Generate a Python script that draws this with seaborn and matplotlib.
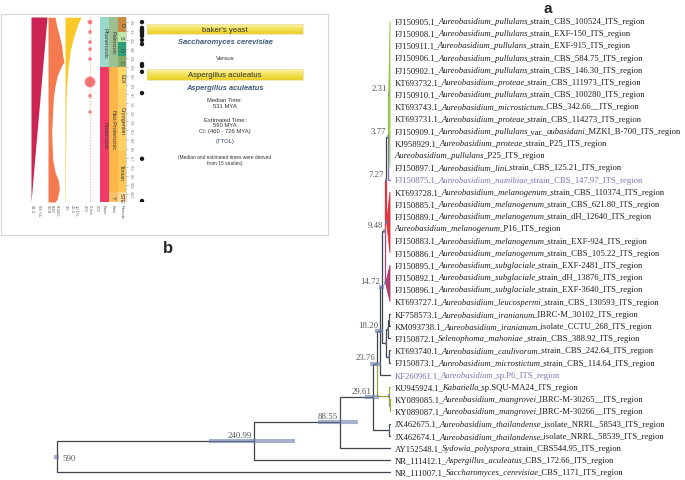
import numpy as np
import matplotlib
matplotlib.use('Agg')
import matplotlib.pyplot as plt
import seaborn as sns
from matplotlib.patches import Polygon, Rectangle
from matplotlib.colors import LinearSegmentedColormap

sns.set_theme(style='white')
plt.rcParams['font.family'] = ['Liberation Serif', 'DejaVu Serif']

# ------------------------------------------------------------------ tree data
leaf_labels = [
    "FJ150905.1_*Aureobasidium_pullulans*_strain_CBS_100524_ITS_region",
    "FJ150908.1_*Aureobasidium_pullulans*_strain_EXF-150_ITS_region",
    "FJ150911.1_*Aureobasidium_pullulans*_strain_EXF-915_ITS_region",
    "FJ150906.1_*Aureobasidium_pullulans*_strain_CBS_584.75_ITS_region",
    "FJ150902.1_*Aureobasidium_pullulans*_strain_CBS_146.30_ITS_region",
    "KT693732.1_*Aureobasidium_proteae*_strain_CBS_111973_ITS_region",
    "FJ150910.1_*Aureobasidium_pullulans*_strain_CBS_100280_ITS_region",
    "KT693743.1_*Aureobasidium_microstictum*_CBS_342.66__ITS_region",
    "KT693731.1_*Aureobasidium_proteae*_strain_CBS_114273_ITS_region",
    "FJ150909.1_*Aureobasidium_pullulans*_var._*aubasidani*_MZKI_B-700_ITS_region",
    "KJ958929.1_*Aureobasidium_proteae*_strain_P25_ITS_region",
    "*Aureobasidium_pullulans*_P25_ITS_region",
    "FJ150897.1_*Aureobasidium_lini*_strain_CBS_125.21_ITS_region",
    "FJ150875.1_*Aureobasidium_namibiae*_strain_CBS_147.97_ITS_region",
    "KT693728.1_*Aureobasidium_melanogenum*_strain_CBS_110374_ITS_region",
    "FJ150885.1_*Aureobasidium_melanogenum*_strain_CBS_621.80_ITS_region",
    "FJ150889.1_*Aureobasidium_melanogenum*_strain_dH_12640_ITS_region",
    "*Aureobasidium_melanogenum*_P16_ITS_region",
    "FJ150883.1_*Aureobasidium_melanogenum*_strain_EXF-924_ITS_region",
    "FJ150886.1_*Aureobasidium_melanogenum*_strain_CBS_105.22_ITS_region",
    "FJ150895.1_*Aureobasidium_subglaciale*_strain_EXF-2481_ITS_region",
    "FJ150892.1_*Aureobasidium_subglaciale*_strain_dH_13876_ITS_region",
    "FJ150896.1_*Aureobasidium_subglaciale*_strain_EXF-3640_ITS_region",
    "KT693727.1_*Aureobasidium_leucospermi*_strain_CBS_130593_ITS_region",
    "KF758573.1_*Aureobasidium_iranianum*_IBRC-M_30102_ITS_region",
    "KM093738.1_*Aureobasidium_iranianum*_isolate_CCTU_268_ITS_region",
    "FJ150872.1_*Selenophoma_mahoniae*_strain_CBS_388.92_ITS_region",
    "KT693740.1_*Aureobasidium_caulivorum*_strain_CBS_242.64_ITS_region",
    "FJ150873.1_*Aureobasidium_microstictum*_strain_CBS_114.64_ITS_region",
    "KF260961.1_*Aureobasidium*_sp.P6_ITS_region",
    "KU945924.1_*Kabatiella*_sp.SQU-MA24_ITS_region",
    "KY089085.1_*Aureobasidium_mangrovei*_IBRC-M-30265__ITS_region",
    "KY089087.1_*Aureobasidium_mangrovei*_IBRC-M-30266__ITS_region",
    "JX462675.1_*Aureobasidium_thailandense*_isolate_NRRL_58543_ITS_region",
    "JX462674.1_*Aureobasidium_thailandense*_isolate_NRRL_58539_ITS_region",
    "AY152548.1_*Sydowia_polyspora*_strain_CBS544.95_ITS_region",
    "NR_111412.1_*Aspergillus_aculeatus*_CBS_172.66_ITS_region",
    "NR_111007.1_*Saccharomyces_cerevisiae*_CBS_1171_ITS_region",
]
purple_leaves = [13, 29]

node_names = ['root', 'n240', 'n88', 'n29', 'jx', 'n23', 'mang', 'mang2', 'n18',
              'n14', 'dd', 'bb', 'aa', 'cc', 'n9', 'sub', 'n7', 'mel', 'n3', 'green']
node_ages = [590, 240.99, 88.55, 29.61, 1.6, 23.76, 1.8, 0.6, 18.20,
             14.72, 6.8, 3.4, 1.1, 1.7, 9.48, 7.8, 7.27, 6.0, 3.77, 2.31]
node_children = [['n240', 37], ['n88', 36], ['n29', 35], ['n23', 'jx'], [33, 34],
                 ['n18', 'mang'], [30, 'mang2'], [31, 32], ['n14', 29],
                 ['n9', 'dd'], ['bb', 'cc'], ['aa', 26], [24, 25], [27, 28],
                 ['n7', 'sub'], list(range(20, 24)), ['n3', 'mel'], list(range(14, 20)),
                 ['green', 13], list(range(0, 13))]
node_hpd_low = [586, 168, 57, 19, 0.8, 16, 0.9, 0.2, 12, 10.5, 4.5, 2.0, 0.5, 0.9,
                7.0, 5.5, 5.2, 4.0, 2.6, 1.4]
node_hpd_high = [594, 320, 127, 44, 2.6, 35, 2.9, 1.2, 27, 19.5, 9.5, 5.0, 1.9, 2.7,
                 12.5, 10.0, 9.6, 8.0, 5.2, 3.4]
label_nodes = ['root', 'n240', 'n88', 'n29', 'n23', 'n18', 'n14', 'n9', 'n7', 'n3', 'green']
label_texts = ['590', '240.99', '88.55', '29.61', '23.76', '18.20', '14.72', '9.48',
               '7.27', '3.77', '2.31']
collapsed = ['green', 'mel', 'sub']

C_DEF = '#40444f'
branch_colors = {'green': '#96c84a', 'mel': '#e2343d', 'n7': '#e2343d', 'sub': '#a4457c',
                 'mang': '#a0a43c', 'mang2': '#a0a43c', 30: '#a0a43c', 31: '#a0a43c',
                 32: '#a0a43c', 13: '#7d74b4'}
fill_colors = {'green': '#96c84a', 'mel': '#e2343d', 'sub': '#b23c6c'}

age = dict(zip(node_names, node_ages))
kids = dict(zip(node_names, node_children))
hlo = dict(zip(node_names, node_hpd_low))
hhi = dict(zip(node_names, node_hpd_high))


def get_age(n):
    return 0.0 if isinstance(n, int) else age[n]


def get_y(n):
    if isinstance(n, int):
        return float(n)
    ch = kids[n]
    return (get_y(ch[0]) + get_y(ch[-1])) / 2.0


# ------------------------------------------------------------------ figure
W, H = 685, 481
fig = plt.figure(figsize=(W / 100, H / 100), dpi=100)
ax = fig.add_axes([0, 0, 1, 1], zorder=1)
ax.set_xlim(690.3, -522.1)
ax.set_ylim(37.62, -1.803)
ax.axis('off')

for n in node_names:
    x0, y0 = age[n], get_y(n)
    if n in collapsed:
        ch = kids[n]
        poly = Polygon([(x0, y0), (0, ch[0]), (0, ch[-1])], closed=True,
                       facecolor=fill_colors[n], edgecolor=fill_colors[n], lw=0.6, zorder=3)
        ax.add_patch(poly)
        continue
    for c in kids[n]:
        col = branch_colors.get(c, C_DEF)
        ax.plot([x0, x0, get_age(c)], [y0, get_y(c), get_y(c)], color=col, lw=0.9,
                solid_joinstyle='miter', zorder=2)

for n in node_names:
    ax.hlines(get_y(n), hlo[n], hhi[n], color='#6c7eac', lw=3.0, alpha=0.6, zorder=4)

for n, t in zip(label_nodes, label_texts):
    if n == 'root':
        ax.annotate(t, (age[n], get_y(n)), xytext=(4, -1), textcoords='offset points',
                    ha='left', va='center', fontsize=6.3, color='#555555', zorder=5)
    else:
        ax.annotate(t, (age[n], get_y(n)), xytext=(-1.2, 1.5), textcoords='offset points',
                    ha='right', va='bottom', fontsize=6.3, color='#555555', zorder=5)

LEAF_FS = 6.25
for i, lab in enumerate(leaf_labels):
    col = '#7a72b4' if i in purple_leaves else '#1e1e1e'
    segs = lab.split('*')
    prev = None
    for k, s in enumerate(segs):
        if s == '':
            continue
        style = 'italic' if k % 2 == 1 else 'normal'
        if prev is None:
            prev = ax.annotate(s, (0, i), xytext=(3.3, 0), textcoords='offset points',
                               ha='left', va='center', fontsize=LEAF_FS, color=col,
                               style=style, zorder=5)
        else:
            prev = ax.annotate(s, (1, 0), xycoords=prev, xytext=(-1.0, 0),
                               textcoords='offset points', ha='left', va='bottom',
                               fontsize=LEAF_FS, color=col, style=style, zorder=5)

# ------------------------------------------------------------------ inset (b)
SANS = ['Liberation Sans', 'DejaVu Sans']
bx0, by0, bx1, by1 = 1, 15, 328, 236
axb = fig.add_axes([bx0 / W, 1 - by1 / H, (bx1 - bx0) / W, (by1 - by0) / H], zorder=6)
axb.set_facecolor('white')
axb.set_xticks([])
axb.set_yticks([])
for sp in axb.spines.values():
    sp.set_color('#d6d6d6')
    sp.set_linewidth(0.8)

lum_ma = [361, 1093]
lum_frac = [1.0, 0.0]
o2_ma = [362, 395, 435, 474, 514, 540, 553, 593, 633, 685, 817, 922, 975, 1008, 1041, 1081, 1093]
o2_frac = [0.44, 0.54, 0.71, 0.85, 0.92, 1.0, 0.85, 0.58, 0.44, 0.33, 0.23, 0.29, 0.44,
           0.65, 0.71, 0.58, 0.44]
co2_ma = [362, 395, 435, 487, 553, 633, 725, 1093]
co2_frac = [1.0, 0.77, 0.56, 0.35, 0.21, 0.10, 0.06, 0.02]
impact_ma = [381, 420, 460, 488, 527, 618, 673, 737]
impact_size = [9, 5, 5, 5, 5, 55, 5, 4]
study_ma = [381, 404, 412, 415, 420, 428, 436, 452, 468, 547, 555, 578, 662, 922, 1089]
eon_names = ['Phanerozoic', 'Proterozoic']
eon_start = [361, 559]
eon_colors = ['#9ad9c9', '#f23a68']
era_names = ['Paleozoic', 'Neo-Proterozoic', 'Y']
era_start = [361, 559, 1053]
era_colors = ['#9cc18e', '#fbb548', '#fcc06a']
period_names = ['D', 'S', 'O', 'C', 'EDI', 'Cryogenian', 'Tonian', 'STE']
period_start = [361, 420, 460, 515, 559, 645, 893, 1053]
period_colors = ['#c98b45', '#bfe6a6', '#2e9e74', '#86a86a', '#fdd866', '#fdd064',
                 '#fcc656', '#fed99a']
time_end = 1093
tick_values = [381, 416, 452, 488, 524, 559, 595, 631, 667, 703, 739, 774, 810, 846,
               882, 917, 953, 989, 1025, 1061]

tx0, tx1, ty0, ty1 = 31, 146, 18, 203
axt = fig.add_axes([tx0 / W, 1 - ty1 / H, (tx1 - tx0) / W, (ty1 - ty0) / H], zorder=7)
axt.set_xlim(0, tx1 - tx0)
axt.set_ylim(time_end, 361)
axt.axis('off')
axt.patch.set_alpha(0)

axt.fill_betweenx(lum_ma, 0, np.array(lum_frac) * 16, color='#cc2452', lw=0)
axt.fill_betweenx(o2_ma, 17, 17 + np.array(o2_frac) * 16, color='#f67a50', lw=0)
axt.fill_betweenx(co2_ma, 34, 34 + np.array(co2_frac) * 16, color='#fac828', lw=0)
axt.plot([59, 59], [361, time_end], ls=(0, (1, 1.5)), color='#f4a59c', lw=0.8)
sns.scatterplot(x=[59] * len(impact_ma), y=impact_ma, s=impact_size, color='#ef4848',
                alpha=0.75, edgecolor='#f59a9a', linewidth=0.6, ax=axt, legend=False,
                zorder=5)


def draw_band(names, starts, colors, xa, xb, fs):
    ends = starts[1:] + [time_end]
    for nm, s, e, c in zip(names, starts, ends, colors):
        axt.add_patch(Rectangle((xa, s), xb - xa, e - s, facecolor=c, edgecolor='none'))
        axt.text((xa + xb) / 2, (s + e) / 2, nm, rotation=270, ha='center', va='center',
                 fontsize=fs, color='#3a3a3a', family=SANS)


draw_band(eon_names, eon_start, eon_colors, 69, 78, 4.0)
draw_band(era_names, era_start, era_colors, 78, 86.5, 4.0)
draw_band(period_names, period_start, period_colors, 86.5, 95, 4.0)
for tv in tick_values:
    axt.plot([95.3, 97], [tv, tv], color='#999999', lw=0.4)
    axt.text(98, tv, str(tv), rotation=270, ha='left', va='center', fontsize=2.3,
             color='#777777', family=SANS)
axt.plot([95.3, 95.3], [361, time_end], color='#bbbbbb', lw=0.4)
sns.scatterplot(x=[111] * len(study_ma), y=study_ma, s=10, color='#1a1a1a',
                edgecolor='none', ax=axt, legend=False)

bottom_labels = ['91.3', '94 %L', '90.9', '8.87', '8.34%', '3.5', '26.3', '10.1%',
                 '200', '0 km', '200', 'Eons', 'Eras', 'Periods']
bottom_x = [31, 38, 47, 51, 56, 65, 71, 75, 84, 89, 96, 103, 112, 121]
for t, xx in zip(bottom_labels, bottom_x):
    axb.text(xx, 190, t, rotation=270, ha='center', va='top', fontsize=3.0,
             color='#555555', family=SANS)

grad = np.linspace(0, 1, 32).reshape(-1, 1)
ycmap = LinearSegmentedColormap.from_list('yb', ['#fbf4b4', '#f3e055', '#e9cf2a'])
for (yt, yb_) in [(10, 20), (55, 66)]:
    axb.imshow(grad, extent=(146, 302, yb_, yt), cmap=ycmap, aspect='auto', zorder=1)
    axb.plot([146, 302, 302, 146, 146], [yt, yt, yb_, yb_, yt], color='#e6d98a', lw=0.4,
             zorder=2)
axb.set_xlim(0, bx1 - bx0)
axb.set_ylim(by1 - by0, 0)

info_lines = [
    ("baker's yeast", 15, 5.6, 'normal', 'normal', '#333333'),
    ("Saccharomyces cerevisiae", 27, 5.4, 'italic', 'bold', '#3e5c7a'),
    ("Versus", 43, 4.4, 'normal', 'normal', '#333333'),
    ("Aspergillus aculeatus", 60.5, 5.6, 'normal', 'normal', '#333333'),
    ("Aspergillus aculeatus", 73, 5.4, 'italic', 'bold', '#3e5c7a'),
    ("Median Time:", 86, 4.2, 'normal', 'normal', '#333333'),
    ("531 MYA", 92, 4.2, 'normal', 'normal', '#333333'),
    ("Estimated Time:", 105, 4.2, 'normal', 'normal', '#333333'),
    ("590 MYA", 110.5, 4.2, 'normal', 'normal', '#333333'),
    ("CI: (460 - 726 MYA)", 116, 4.2, 'normal', 'normal', '#333333'),
    ("(TTOL)", 126, 4.2, 'normal', 'normal', '#2c3e66'),
    ("(Median and estimated times were derived", 143, 3.5, 'normal', 'normal', '#333333'),
    ("from 15 studies)", 149, 3.5, 'normal', 'normal', '#333333'),
]
for t, yy, fs, st, wt, c in info_lines:
    axb.text(224, yy, t, ha='center', va='center', fontsize=fs, style=st, weight=wt,
             color=c, family=SANS, zorder=3)

fig.text(548 / W, 1 - 9 / H, 'a', ha='center', va='center', fontsize=11, weight='bold',
         family=SANS)
fig.text(168 / W, 1 - 249 / H, 'b', ha='center', va='center', fontsize=12, weight='bold',
         family=SANS)

fig.savefig('out.png', dpi=100)
